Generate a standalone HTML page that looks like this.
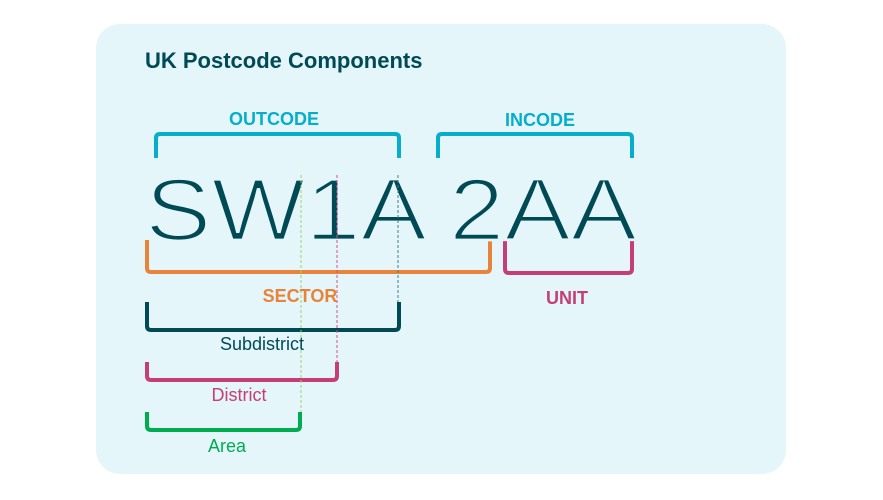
<!DOCTYPE html>
<html><head><meta charset="utf-8"><style>
html,body{margin:0;padding:0;background:#fff;}
svg{display:block;font-family:"Liberation Sans",sans-serif;}
</style></head><body>
<svg width="883" height="500" viewBox="0 0 883 500">
<rect x="96" y="24" width="690" height="450" rx="24" fill="#e4f6f9"/>
<text x="145" y="68" font-size="22" font-weight="bold" fill="#004a56">UK Postcode Components</text>
<g fill="none" stroke-width="4" stroke-linecap="butt">
<path d="M156,158 V138 Q156,134 160,134 H395 Q399,134 399,138 V158" stroke="#06aecb"/>
<path d="M438,158 V138 Q438,134 442,134 H628 Q632,134 632,138 V158" stroke="#06aecb"/>
<path d="M147,240 V268 Q147,272 151,272 H486 Q490,272 490,268 V240" stroke="#e8833a"/>
<path d="M505,240 V269 Q505,273 509,273 H628 Q632,273 632,269 V240" stroke="#c63e77"/>
<path d="M147,302 V326 Q147,330 151,330 H395 Q399,330 399,326 V302" stroke="#004a56"/>
<path d="M147,362 V376 Q147,380 151,380 H333 Q337,380 337,376 V362" stroke="#c63e77"/>
<path d="M147,412 V426 Q147,430 151,430 H296 Q300,430 300,426 V412" stroke="#00ac50"/>
</g>
<text x="145" y="240" font-size="88" fill="#004a56" stroke="#e4f6f9" stroke-width="2.8" textLength="492" lengthAdjust="spacingAndGlyphs">SW1A 2AA</text>
<g stroke-width="1" stroke-dasharray="3,2" fill="none">
<line x1="301" y1="175" x2="301" y2="412" stroke="#9ed36a"/>
<line x1="337" y1="175" x2="337" y2="362" stroke="#d9508a"/>
<line x1="398" y1="175" x2="398" y2="302" stroke="#3f7f88"/>
</g>
<g font-weight="bold" font-size="18" text-anchor="middle">
<text x="274" y="125" fill="#06aecb">OUTCODE</text>
<text x="540" y="126" fill="#06aecb">INCODE</text>
<text x="300" y="302" fill="#e8833a">SECTOR</text>
<text x="567" y="304" fill="#c63e77">UNIT</text>
</g>
<g font-size="18" text-anchor="middle">
<text x="262" y="350" fill="#004a56">Subdistrict</text>
<text x="239" y="401" fill="#c63e77">District</text>
<text x="227" y="452" fill="#00ac50">Area</text>
</g>
</svg>
</body></html>
